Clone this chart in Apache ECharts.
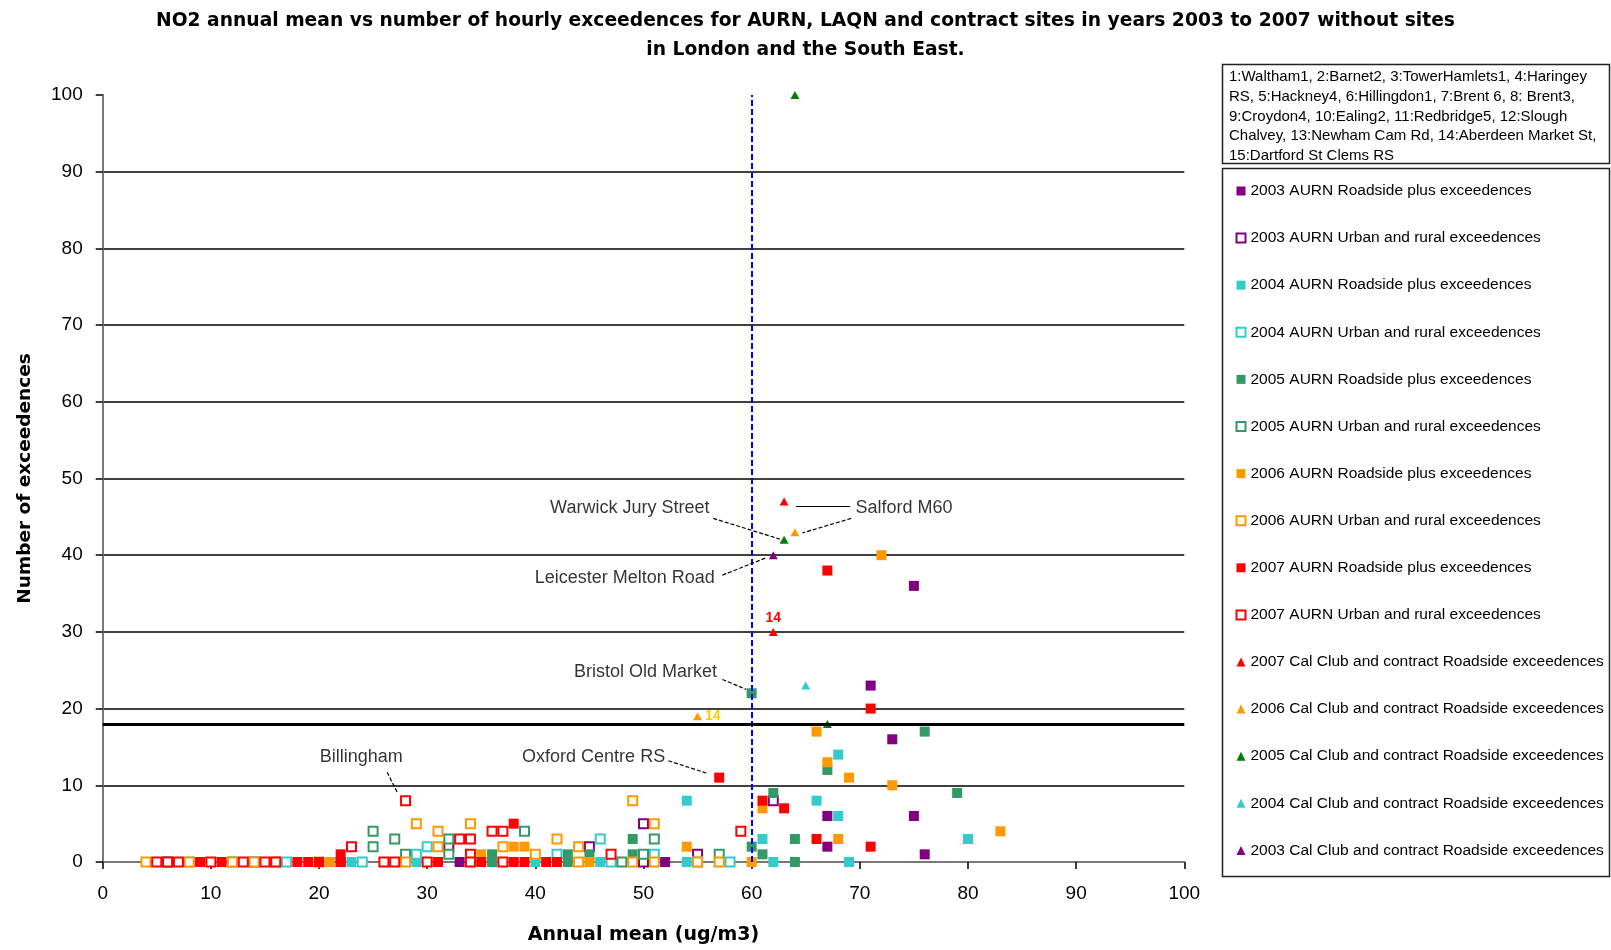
<!DOCTYPE html>
<html>
<head>
<meta charset="utf-8">
<script src="https://cdn.jsdelivr.net/npm/echarts@6/dist/echarts.min.js"></script>
<style>
  html, body { margin: 0; padding: 0; background: #ffffff; }
  #chart { width: 1611px; height: 950px; }
</style>
</head>
<body>
<div id="chart"></div>
<script>
// Each point: [annual mean NO2 (ug/m3), number of hourly exceedences]
const aurn2003Roadside = [[75,36],[71,23],[73,16],[67,6],[75,6],[67,2],[76,1],[52,0],[33,0],[22,0]];
const aurn2003Urban    = [[62,8],[50,5],[45,2],[32,2],[55,1],[50,0],[14,0]];
const aurn2004Roadside = [[68,14],[54,8],[66,8],[68,6],[61,3],[80,3],[54,0],[62,0],[69,0],[46,0],[40,0],[38,0],[29,0],[23,0],[7,0]];
const aurn2004Urban    = [[46,3],[30,2],[29,1],[42,1],[51,1],[55,0],[58,0],[47,0],[24,0],[17,0],[14,0],[8,0],[6,0]];
const aurn2005Roadside = [[60,22],[76,17],[67,12],[62,9],[79,9],[49,3],[64,3],[60,2],[61,1],[36,1],[43,1],[45,1],[49,1],[64,0],[43,0],[36,0],[10,0]];
const aurn2005Urban    = [[25,4],[39,4],[27,3],[32,3],[51,3],[25,2],[28,1],[32,1],[50,1],[57,1],[48,0],[12,0],[6,0]];
const aurn2006Roadside = [[72,40],[66,17],[67,13],[69,11],[73,10],[61,7],[83,4],[68,3],[54,2],[38,2],[39,2],[35,1],[60,0],[45,0],[37,0],[34,0],[21,0]];
const aurn2006Urban    = [[49,8],[29,5],[34,5],[51,5],[31,4],[42,3],[31,2],[37,2],[44,2],[40,1],[57,0],[55,0],[51,0],[49,0],[44,0],[28,0],[20,0],[16,0],[14,0],[12,0],[8,0],[4,0]];
const aurn2007Roadside = [[67,38],[71,20],[57,11],[61,8],[63,7],[38,5],[66,3],[71,2],[22,1],[42,0],[41,0],[39,0],[38,0],[35,0],[31,0],[22,0],[20,0],[19,0],[18,0],[11,0],[9,0]];
const aurn2007Urban    = [[28,8],[59,4],[36,4],[37,4],[33,3],[34,3],[23,2],[47,1],[34,1],[37,0],[34,0],[30,0],[27,0],[26,0],[16,0],[15,0],[13,0],[10,0],[7,0],[6,0],[5,0]];
const calClub2007 = [[63,47],[62,30]];
const calClub2006 = [[64,43],[55,19]];
const calClub2005 = [[64,100],[63,42],[67,18]];
const calClub2004 = [[65,23]];
const calClub2003 = [[62,40]];

// Site numbers written beside individual contract-site points
const calClub2007Ids = ['', '14'];
const calClub2006Ids = ['', '14'];

// Reference levels
const annualLimit = 60;      // ug/m3
const hourlyAllowance = 18;  // exceedences

const siteKey = '1:Waltham1, 2:Barnet2, 3:TowerHamlets1, 4:Haringey\nRS, 5:Hackney4, 6:Hillingdon1, 7:Brent 6, 8: Brent3,\n9:Croydon4, 10:Ealing2, 11:Redbridge5, 12:Slough\nChalvey, 13:Newham Cam Rd, 14:Aberdeen Market St,\n15:Dartford St Clems RS';

// Named sites: text anchor and leader line, in axis units
const callouts = [
  { text: 'Warwick Jury Street',   at: [56.1, 46.2], align: 'right',  leader: [[56.45, 44.8], [62.6, 42.1]], solid: false },
  { text: 'Salford M60',           at: [69.6, 46.2], align: 'left',   leader: [[69.2, 44.8], [64.7, 42.9]], solid: false },
  { text: '',                      at: null,         align: 'left',   leader: [[64.1, 46.4], [69.1, 46.4]], solid: true },
  { text: 'Leicester Melton Road', at: [56.6, 37.0], align: 'right',  leader: [[57.3, 37.4], [61.4, 39.7]], solid: false },
  { text: 'Bristol Old Market',    at: [56.8, 24.8], align: 'right',  leader: [[57.3, 23.8], [59.5, 22.5]], solid: false },
  { text: 'Oxford Centre RS',      at: [52.0, 13.7], align: 'right',  leader: [[52.3, 13.2], [55.8, 11.6]], solid: false },
  { text: 'Billingham',            at: [23.9, 13.7], align: 'center', leader: [[26.3, 11.7], [27.3, 8.9]],  solid: false }
];

const PURPLE = '#800080', TEAL = '#33CCCC', GREEN = '#339966', ORANGE = '#FF9900', RED = '#FF0000', DKGREEN = '#008000';

const seriesDefs = [
  { name: '2003 AURN Roadside plus exceedences',  data: aurn2003Roadside, kind: 'filled', color: PURPLE },
  { name: '2003 AURN Urban and rural exceedences', data: aurn2003Urban,    kind: 'open',   color: PURPLE },
  { name: '2004 AURN Roadside plus exceedences',  data: aurn2004Roadside, kind: 'filled', color: TEAL },
  { name: '2004 AURN Urban and rural exceedences', data: aurn2004Urban,    kind: 'open',   color: TEAL },
  { name: '2005 AURN Roadside plus exceedences',  data: aurn2005Roadside, kind: 'filled', color: GREEN },
  { name: '2005 AURN Urban and rural exceedences', data: aurn2005Urban,    kind: 'open',   color: GREEN },
  { name: '2006 AURN Roadside plus exceedences',  data: aurn2006Roadside, kind: 'filled', color: ORANGE },
  { name: '2006 AURN Urban and rural exceedences', data: aurn2006Urban,    kind: 'open',   color: ORANGE },
  { name: '2007 AURN Roadside plus exceedences',  data: aurn2007Roadside, kind: 'filled', color: RED },
  { name: '2007 AURN Urban and rural exceedences', data: aurn2007Urban,    kind: 'open',   color: RED },
  { name: '2007 Cal Club and contract Roadside exceedences', data: calClub2007, kind: 'tri', color: RED,     ids: calClub2007Ids, idPos: 'top',   idColor: '#FF0000' },
  { name: '2006 Cal Club and contract Roadside exceedences', data: calClub2006, kind: 'tri', color: ORANGE,  ids: calClub2006Ids, idPos: 'right', idColor: '#FFCC00' },
  { name: '2005 Cal Club and contract Roadside exceedences', data: calClub2005, kind: 'tri', color: DKGREEN },
  { name: '2004 Cal Club and contract Roadside exceedences', data: calClub2004, kind: 'tri', color: TEAL },
  { name: '2003 Cal Club and contract Roadside exceedences', data: calClub2003, kind: 'tri', color: PURPLE }
];

const TXT = "'Liberation Sans', Arial, sans-serif";
const BOLD = "'DejaVu Sans', Verdana, sans-serif";

function buildSeries(def) {
  const s = {
    name: def.name,
    type: 'scatter',
    data: def.data,
    z: 2
  };
  if (def.kind === 'filled') {
    s.symbol = 'rect';
    s.symbolSize = 10;
    s.itemStyle = { color: def.color, opacity: 1 };
  } else if (def.kind === 'open') {
    s.symbol = 'rect';
    s.symbolSize = 9;
    s.itemStyle = { color: '#ffffff', borderColor: def.color, borderWidth: 2, opacity: 1 };
  } else {
    s.symbol = 'triangle';
    s.symbolSize = [9, 8];
    s.z = 3;
    s.itemStyle = { color: def.color, opacity: 1 };
  }
  if (def.ids) {
    s.label = {
      show: true,
      position: def.idPos,
      distance: 3,
      color: def.idColor,
      fontFamily: "'Liberation Sans Narrow', 'Liberation Sans', sans-serif",
      fontWeight: 'bold',
      fontSize: 14,
      formatter: (p) => def.ids[p.dataIndex]
    };
  }
  return s;
}

const series = seriesDefs.map(buildSeries);

// Callout texts, leader lines and the two reference levels
series.push({
  name: 'callouts',
  type: 'scatter',
  z: 5,
  symbolSize: 0,
  silent: true,
  data: callouts.filter(c => c.at).map(c => ({
    name: c.text,
    value: c.at,
    label: { align: c.align }
  })),
  label: {
    show: true,
    position: 'inside',
    verticalAlign: 'middle',
    formatter: '{b}',
    color: '#000',
    fontFamily: TXT,
    fontSize: 18
  },
  markLine: {
    silent: true,
    symbol: ['none', 'none'],
    label: { show: false },
    animation: false,
    data: [
      { xAxis: annualLimit, lineStyle: { color: '#0000FF', width: 2, type: [6, 3] } },
      { yAxis: hourlyAllowance, lineStyle: { color: '#000000', width: 3, type: 'solid' } }
    ].concat(callouts.map(c => [
      { coord: c.leader[0], lineStyle: { color: '#000', width: 1.2, type: c.solid ? 'solid' : [4, 2] } },
      { coord: c.leader[1] }
    ]))
  }
});

const chart = echarts.init(document.getElementById('chart'), null, { renderer: 'canvas' });

chart.setOption({
  animation: false,
  backgroundColor: '#ffffff',
  title: {
    text: 'NO2 annual mean vs number of hourly exceedences for AURN, LAQN and contract sites in years 2003 to 2007 without sites\nin London and the South East.',
    left: 'center',
    top: 7,
    padding: 0,
    textStyle: {
      fontFamily: BOLD,
      fontWeight: 'bold',
      fontSize: 18.7,
      lineHeight: 28.5,
      color: '#000'
    }
  },
  grid: { left: 102.7, right: 426.7, top: 95, bottom: 85, containLabel: false },
  xAxis: [{
    type: 'value',
    min: 0, max: 100, interval: 10,
    name: 'Annual mean (ug/m3)',
    nameLocation: 'middle',
    nameGap: 64,
    nameTextStyle: { fontFamily: BOLD, fontWeight: 'bold', fontSize: 19, color: '#000' },
    axisLine: { show: true, onZero: false, lineStyle: { color: '#000', width: 1.5 } },
    axisTick: { show: true, inside: false, length: 7, lineStyle: { color: '#000', width: 1.5 } },
    axisLabel: { margin: 22, fontFamily: TXT, fontSize: 19, color: '#000' },
    splitLine: { show: false }
  }, {
    type: 'value', position: 'top',
    min: 0, max: 100, interval: 10,
    axisLine: { show: true, lineStyle: { color: '#8c8c8c', width: 1.5 } },
    axisTick: { show: false }, axisLabel: { show: false }, splitLine: { show: false }
  }],
  yAxis: [{
    type: 'value',
    min: 0, max: 100, interval: 10,
    name: 'Number of exceedences',
    nameLocation: 'middle',
    nameGap: 68,
    nameTextStyle: { fontFamily: BOLD, fontWeight: 'bold', fontSize: 18.5, color: '#000' },
    axisLine: { show: true, onZero: false, lineStyle: { color: '#000', width: 1.5 } },
    axisTick: { show: true, inside: false, length: 7, lineStyle: { color: '#000', width: 1.5 } },
    axisLabel: { margin: 20, fontFamily: TXT, fontSize: 19, color: '#000' },
    splitLine: { show: true, showMinLine: false, showMaxLine: false, lineStyle: { color: '#000', width: 1.5 } }
  }, {
    type: 'value', position: 'right',
    min: 0, max: 100, interval: 10,
    axisLine: { show: true, lineStyle: { color: '#8c8c8c', width: 1.5 } },
    axisTick: { show: false }, axisLabel: { show: false }, splitLine: { show: false }
  }],
  legend: {
    data: seriesDefs.map(d => d.name),
    orient: 'vertical',
    left: 1235.5,
    top: 183,
    padding: 0,
    itemWidth: 9,
    itemHeight: 9,
    itemGap: 31.1,
    selectedMode: false,
    textStyle: { fontFamily: TXT, fontSize: 15.5, color: '#000', lineHeight: 16 }
  },
  graphic: [
    {
      type: 'rect', z: 10, silent: true,
      shape: { x: 1222.5, y: 64.5, width: 387, height: 99 },
      style: { fill: 'none', stroke: '#222', lineWidth: 1.5 }
    },
    {
      type: 'text', z: 11, silent: true,
      x: 1229, y: 67,
      style: { text: siteKey, font: '15px ' + TXT, fill: '#000', lineHeight: 19.8, verticalAlign: 'top' }
    },
    {
      type: 'rect', z: 10, silent: true,
      shape: { x: 1222.5, y: 168.5, width: 387, height: 708 },
      style: { fill: 'none', stroke: '#222', lineWidth: 1.5 }
    }
  ],
  series: series
});
</script>
</body>
</html>
